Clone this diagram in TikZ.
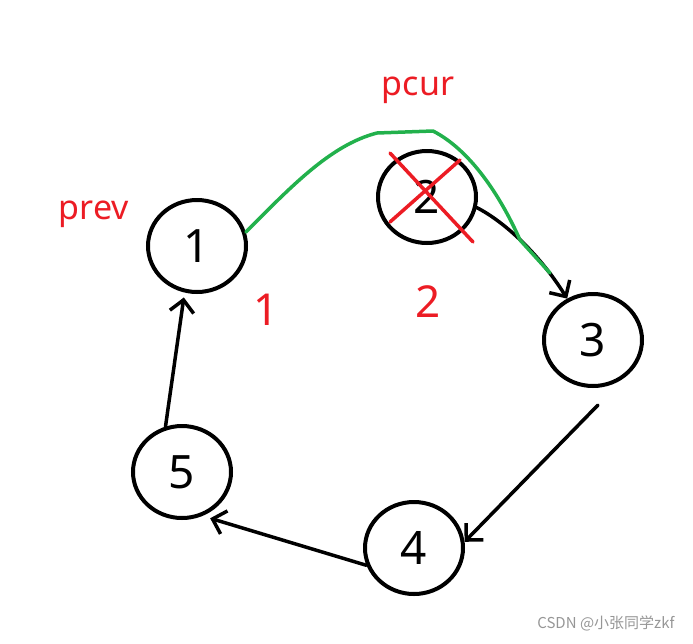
\documentclass[tikz,border=0pt]{standalone}
\usepackage{fontspec}
\setmainfont{Noto Sans}
\newfontfamily\cjkfont{Noto Sans CJK SC}
\usetikzlibrary{arrows.meta,shapes.geometric}
\definecolor{penred}{RGB}{236,28,36}
\definecolor{pengreen}{RGB}{34,177,76}
\definecolor{markgray}{RGB}{150,150,150}
\tikzset{
  listnode/.style={draw=black, line width=4pt, ellipse, minimum width=98pt, minimum height=92pt, inner sep=0pt, font=\fontsize{46}{46}\selectfont},
  link/.style={draw=black, line width=3.5pt, line cap=round, line join=round, -{Straight Barb[length=12pt,width=24pt,line width=3.5pt]}},
  redlabel/.style={text=penred, font=\fontsize{34}{34}\selectfont},
  rednum/.style={text=penred, font=\fontsize{44}{44}\selectfont},
  greenlink/.style={draw=pengreen, line width=3.5pt, line cap=round, line join=round},
  crossline/.style={draw=penred, line width=3.5pt, line cap=round}
}
\begin{document}
\begin{tikzpicture}[x=1pt,y=-1pt]
\useasboundingbox (0,0) rectangle (693,643);
\node[listnode] (n1) at (197,246) {1};
\node[listnode] (n2) at (427,197) {2};
\node[listnode] (n3) at (593,340) {3};
\node[listnode] (n4) at (414,548) {4};
\node[listnode] (n5) at (182,472) {5};
% red cross over node 2
\coordinate (x1a) at (390,153);
\coordinate (x1b) at (473,242);
\coordinate (x2a) at (460,160);
\coordinate (x2b) at (390,222);
\draw[crossline] (x1a) -- (x1b);
\draw[crossline] (x2a) -- (x2b);
% labels
\node[redlabel] (prev) at (94,214) {prev};
\node[redlabel] (pcur) at (418,90) {pcur};
\node[rednum] (l1) at (266,310) {1};
\node[rednum] (l2) at (428,302) {2};
% black links
\draw[link] (n2.-12) .. controls (505,222) and (540,255) .. (n3.122);
\coordinate (s3) at (598,405);
\draw[link] (s3) -- (n4.7);
\draw[link, shorten >=8pt] (n4.200) -- (n5.-65);
\draw[link, shorten >=5pt] (n5.110) -- (n1.-105);
% green bypass link
\coordinate (gend) at (550,273);
\draw[greenlink] (n1.16) .. controls (290,188) and (330,145) .. (377,133) -- (433,131) .. controls (470,150) and (500,195) .. (520,240) -- (gend);
% watermark
\node[anchor=east, text=markgray, font=\cjkfont\fontsize{15}{15}\selectfont] (wm) at (678,623) {CSDN @小张同学zkf};
\end{tikzpicture}
\end{document}
